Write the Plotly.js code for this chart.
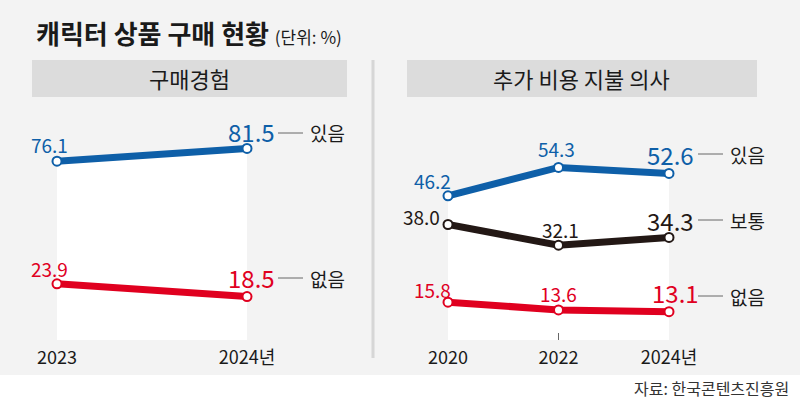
<!DOCTYPE html>
<html><head><meta charset="utf-8">
<script src="https://cdn.plot.ly/plotly-3.0.1.min.js"></script>
<style>html,body{margin:0;padding:0;background:#fff}#chart{width:800px;height:399px}</style>
</head><body><div id="chart"></div>
<script>
// ---- data ----
const leftYears = [2023, 2024];
const leftTickText = ['2023', '2024년'];
const leftYes = [76.1, 81.5];
const leftNo = [23.9, 18.5];

const rightYears = [2020, 2022, 2024];
const rightTickText = ['2020', '2022', '2024년'];
const rightYes = [46.2, 54.3, 52.6];
const rightNeutral = [38.0, 32.1, 34.3];
const rightNo = [15.8, 13.6, 13.1];

const seriesNames = {yes: '있음', neutral: '보통', no: '없음'};
const panelTitles = ['구매경험', '추가 비용 지불 의사'];

const FONT = '"Noto Sans CJK KR", "Noto Sans", sans-serif';
const BLUE = '#0e5fa8', RED = '#e0001f', BLACK = '#231815';
const W = 800, H = 399;
const px = v => v / W, py = v => 1 - v / H;

function line(x, y, color, xa, ya, fill) {
  return {
    x: x, y: y, xaxis: xa, yaxis: ya, type: 'scatter', mode: 'lines+markers',
    line: {color: color, width: 7},
    marker: {size: 9, color: '#fff', line: {color: color, width: 2}},
    fill: fill ? 'tozeroy' : 'none', fillcolor: '#ffffff',
    cliponaxis: false, hoverinfo: 'skip', showlegend: false
  };
}

const traces = [
  line(leftYears, leftYes, BLUE, 'x', 'y', true),
  line(leftYears, leftNo, RED, 'x', 'y', false),
  line(rightYears, rightYes, BLUE, 'x2', 'y2', true),
  line(rightYears, rightNeutral, BLACK, 'x2', 'y2', false),
  line(rightYears, rightNo, RED, 'x2', 'y2', false)
];

const annotations = [];
function labels(xs, ys, color, xa, ya, shifts) {
  xs.forEach((x, i) => {
    const last = i === xs.length - 1;
    annotations.push({
      x: x, y: ys[i], xref: xa, yref: ya, text: ys[i].toFixed(1), showarrow: false,
      xanchor: 'center', yanchor: 'middle',
      xshift: shifts[i][0], yshift: shifts[i][1],
      font: {family: FONT, size: last ? 24 : 19, color: color}
    });
  });
}
labels(leftYears, leftYes, BLUE, 'x', 'y', [[-7, 17], [4, 17]]);
labels(leftYears, leftNo, RED, 'x', 'y', [[-7, 15], [4, 19]]);
labels(rightYears, rightYes, BLUE, 'x2', 'y2', [[-16, 15], [-2, 19], [1, 19]]);
labels(rightYears, rightNeutral, BLACK, 'x2', 'y2', [[-27, 8], [2, 16], [1, 17]]);
labels(rightYears, rightNo, RED, 'x2', 'y2', [[-16, 13], [0, 16], [6, 19]]);

// titles
annotations.push({xref: 'paper', yref: 'paper', x: px(34), y: py(32), xanchor: 'left', yanchor: 'middle', showarrow: false,
  text: '<b>캐릭터 상품 구매 현황</b> <span style="font-size:17px">(단위: %)</span>',
  font: {family: FONT, size: 26, color: '#1a1a1a'}});
annotations.push({xref: 'paper', yref: 'paper', x: px(189), y: py(78), xanchor: 'center', yanchor: 'middle', showarrow: false,
  text: panelTitles[0], font: {family: FONT, size: 22, color: '#1a1a1a'}});
annotations.push({xref: 'paper', yref: 'paper', x: px(581), y: py(78), xanchor: 'center', yanchor: 'middle', showarrow: false,
  text: panelTitles[1], font: {family: FONT, size: 22, color: '#1a1a1a'}});
annotations.push({xref: 'paper', yref: 'paper', x: px(791), y: py(388), xanchor: 'right', yanchor: 'middle', showarrow: false,
  text: '자료: 한국콘텐츠진흥원', font: {family: FONT, size: 16, color: '#333'}});

// series name tags
const tags = [
  [278, 133, seriesNames.yes], [278, 278, seriesNames.no],
  [698, 154, seriesNames.yes], [698, 220, seriesNames.neutral], [698, 296, seriesNames.no]
];
const shapes = [
  {type: 'rect', xref: 'paper', yref: 'paper', x0: 0, x1: 1, y0: py(399), y1: py(375), fillcolor: '#ffffff', line: {width: 0}, layer: 'below'},
  {type: 'rect', xref: 'paper', yref: 'paper', x0: px(32), x1: px(347), y0: py(97), y1: py(60), fillcolor: '#dcdcdc', line: {width: 0}, layer: 'below'},
  {type: 'rect', xref: 'paper', yref: 'paper', x0: px(407), x1: px(757), y0: py(97), y1: py(60), fillcolor: '#dcdcdc', line: {width: 0}, layer: 'below'},
  {type: 'line', xref: 'paper', yref: 'paper', x0: px(373), x1: px(373), y0: py(60), y1: py(358), line: {color: '#d6d6d6', width: 3}, layer: 'below'}
];
tags.forEach(t => {
  shapes.push({type: 'line', xref: 'paper', yref: 'paper', x0: px(t[0]), x1: px(t[0] + 25), y0: py(t[1]), y1: py(t[1]), line: {color: '#666', width: 1}});
  annotations.push({xref: 'paper', yref: 'paper', x: px(t[0] + 30), y: py(t[1]), xanchor: 'left', yanchor: 'middle', showarrow: false,
    text: t[2], font: {family: FONT, size: 19, color: '#1a1a1a'}});
});

const yDom = [1 - 340 / H, 1 - 120 / H];
const xCommon = {showgrid: false, zeroline: false, showline: false, ticks: 'inside', ticklen: 7, tickwidth: 1, tickcolor: '#666',
  ticklabelstandoff: 5,
  tickfont: {family: FONT, size: 18, color: '#1a1a1a'}, fixedrange: true};
const yCommon = {showgrid: false, zeroline: false, showline: false, showticklabels: false, ticks: '', fixedrange: true};

const layout = {
  width: W, height: H, margin: {l: 0, r: 0, t: 0, b: 0},
  paper_bgcolor: '#f3f3f3', plot_bgcolor: 'rgba(0,0,0,0)',
  xaxis: Object.assign({}, xCommon, {domain: [px(57), px(247)], range: [2023, 2024], tickvals: leftYears, ticktext: leftTickText, anchor: 'y'}),
  yaxis: Object.assign({}, yCommon, {domain: yDom, range: [0, 220 / 2.35], anchor: 'x'}),
  xaxis2: Object.assign({}, xCommon, {domain: [px(448), px(669)], range: [2020, 2024], tickvals: rightYears, ticktext: rightTickText, anchor: 'y2'}),
  yaxis2: Object.assign({}, yCommon, {domain: yDom, range: [5, 5 + 220 / 3.5], anchor: 'x2'}),
  annotations: annotations, shapes: shapes, showlegend: false
};

Plotly.newPlot('chart', traces, layout, {displayModeBar: false, staticPlot: true});
</script></body></html>
